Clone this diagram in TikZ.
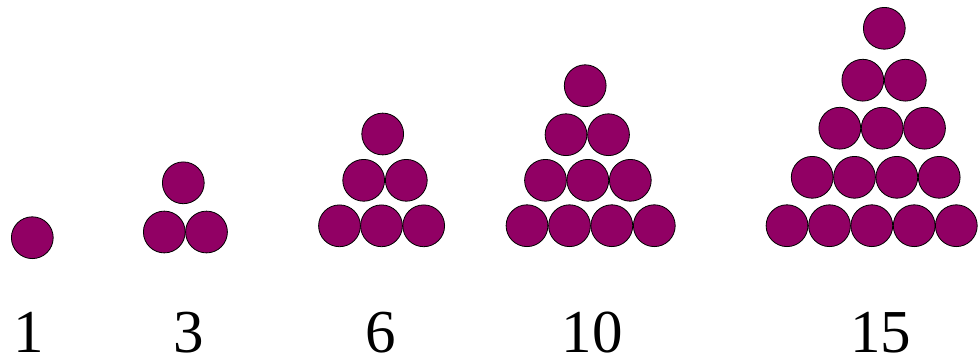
\documentclass[tikz,border=0pt]{standalone}
\usepackage{fontspec}
\setmainfont{Liberation Serif}
\definecolor{plum}{RGB}{145,0,100}
\begin{document}
\begin{tikzpicture}[x=1pt,y=-1pt,
  ball/.style={circle,draw=black,fill=plum,line width=0.8pt,minimum size=41.8pt,inner sep=0pt},
  lbl/.style={anchor=base,inner sep=0pt,font=\fontsize{61}{61}\selectfont}]
\useasboundingbox (0,0) rectangle (980,357);
% 1
\node[ball] (a1) at (32.3,237.7) {};
% 3
\node[ball] (b1) at (183.3,182.8) {};
\node[ball] (b2) at (164.3,232) {};
\node[ball] (b3) at (206.5,232) {};
% 6
\node[ball] (c1) at (382.7,134) {};
\node[ball] (c2) at (363.7,180.3) {};
\node[ball] (c3) at (406.3,180.3) {};
\node[ball] (c4) at (339.5,225.8) {};
\node[ball] (c5) at (381.5,225.8) {};
\node[ball] (c6) at (423.7,225.8) {};
% 10
\node[ball] (d1) at (585.2,85.7) {};
\node[ball] (d2) at (566,134.7) {};
\node[ball] (d3) at (608.5,134.7) {};
\node[ball] (d4) at (545.5,180.3) {};
\node[ball] (d5) at (587.8,180.3) {};
\node[ball] (d6) at (630.3,180.3) {};
\node[ball] (d7) at (527,225.7) {};
\node[ball] (d8) at (569.5,225.7) {};
\node[ball] (d9) at (611.8,225.7) {};
\node[ball] (d10) at (654.3,225.7) {};
% 15
\node[ball] (e1) at (884.3,28.3) {};
\node[ball] (e2) at (862.8,80.2) {};
\node[ball] (e3) at (905.3,80.2) {};
\node[ball] (e4) at (839.8,128.2) {};
\node[ball] (e5) at (882.2,128.2) {};
\node[ball] (e6) at (924.5,128.2) {};
\node[ball] (e7) at (812.2,177.3) {};
\node[ball] (e8) at (854.5,177.3) {};
\node[ball] (e9) at (896.8,177.3) {};
\node[ball] (e10) at (939.2,177.3) {};
\node[ball] (e11) at (787,225.7) {};
\node[ball] (e12) at (829.5,225.7) {};
\node[ball] (e13) at (871.8,225.7) {};
\node[ball] (e14) at (914.2,225.7) {};
\node[ball] (e15) at (956.3,225.7) {};
% labels
\node[lbl] (l1) at (29,352) {1};
\node[lbl] (l3) at (188.5,352) {3};
\node[lbl] (l6) at (380.5,352) {6};
\node[lbl] (l10) at (592,352) {10};
\node[lbl] (l15) at (880.5,352) {15};
\end{tikzpicture}
\end{document}
